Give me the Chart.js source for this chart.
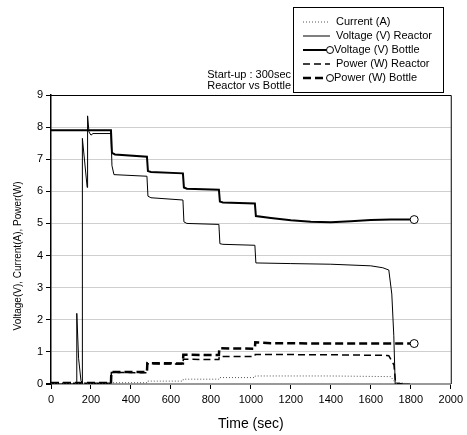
<!DOCTYPE html>
<html lang="en">
<head>
  <meta charset="UTF-8" />
  <title>Start-up : 300sec | Reactor vs Bottle</title>
  <script src="https://cdn.jsdelivr.net/npm/chart.js"></script>
  <style>
    body { margin: 0; background: #fff; }
    canvas { display: block; }
  </style>
</head>
<body>
  <canvas id="chart" width="467" height="435"></canvas>

  <script>
    // time (sec) / value pairs
    const currentT = [0, 300, 302, 480, 482, 660, 662, 840, 842, 1020, 1022, 1400, 1700, 1720, 1760, 1790];
    const currentV = [0, 0, 0.04, 0.04, 0.09, 0.09, 0.15, 0.15, 0.2, 0.2, 0.25, 0.25, 0.23, 0.05, 0.03, 0];

    const vReactorT = [0, 126, 129, 138, 150, 156, 157, 181, 183, 190, 200, 210, 300, 305, 315, 480, 485, 500, 660, 665, 680,
                       840, 845, 860, 1020, 1025, 1200, 1400, 1600, 1660, 1690, 1705, 1715, 1722, 1795];
    const vReactorV = [0, 0, 2.2, 0.8, 0.1, 0.05, 7.65, 6.12, 8.35, 7.85, 7.75, 7.8, 7.8, 6.8, 6.52, 6.47, 5.85, 5.8, 5.73, 5.05, 5.0,
                       4.97, 4.37, 4.35, 4.32, 3.77, 3.75, 3.73, 3.68, 3.62, 3.55, 2.8, 1.5, 0, 0];

    const vBottleT = [0, 300, 305, 320, 480, 485, 500, 660, 665, 680, 840, 845, 860, 1020, 1025, 1100, 1200, 1300, 1400, 1500, 1600, 1700, 1817];
    const vBottleV = [7.9, 7.9, 7.2, 7.15, 7.08, 6.63, 6.6, 6.56, 6.12, 6.08, 6.05, 5.68, 5.65, 5.62, 5.23, 5.17, 5.1, 5.05, 5.04, 5.07, 5.11, 5.12, 5.12];

    const pReactorT = [0, 300, 302, 480, 482, 660, 662, 840, 842, 1020, 1022, 1400, 1680, 1690, 1716, 1724, 1760];
    const pReactorV = [0.02, 0.02, 0.36, 0.35, 0.63, 0.62, 0.77, 0.76, 0.86, 0.86, 0.92, 0.91, 0.89, 0.88, 0.59, 0.03, 0];

    const pBottleT = [0, 300, 302, 480, 482, 660, 662, 840, 842, 1020, 1022, 1100, 1400, 1817];
    const pBottleV = [0.03, 0.03, 0.37, 0.37, 0.65, 0.64, 0.91, 0.9, 1.11, 1.1, 1.3, 1.27, 1.26, 1.26];

    const labels = ['Current (A)', 'Voltage (V) Reactor', 'Voltage (V) Bottle', 'Power (W) Reactor', 'Power (W) Bottle'];
    const noteLines = ['Start-up : 300sec', 'Reactor vs Bottle'];
    const yTitle = 'Voltage(V), Current(A), Power(W)';

    const FONT = "'Liberation Sans', Arial, sans-serif";

    function pts(t, v) {
      return t.map((x, i) => ({ x: x, y: v[i] }));
    }
    // only the last point of the "Bottle" series gets an open circle
    function lastOnly(ctx) {
      return ctx.dataIndex === ctx.dataset.data.length - 1 ? 4 : 0;
    }

    const datasets = [
      { label: labels[0], data: pts(currentT, currentV), borderColor: '#555', borderWidth: 1, borderDash: [1, 2], pointRadius: 0 },
      { label: labels[1], data: pts(vReactorT, vReactorV), borderColor: '#000', borderWidth: 1, pointRadius: 0 },
      { label: labels[2], data: pts(vBottleT, vBottleV), borderColor: '#000', borderWidth: 2, pointRadius: lastOnly,
        pointBackgroundColor: '#fff', pointBorderColor: '#000', pointBorderWidth: 1, marker: true },
      { label: labels[3], data: pts(pReactorT, pReactorV), borderColor: '#000', borderWidth: 1.5, borderDash: [7, 4], pointRadius: 0 },
      { label: labels[4], data: pts(pBottleT, pBottleV), borderColor: '#000', borderWidth: 2.5, borderDash: [8, 4], pointRadius: lastOnly,
        pointBackgroundColor: '#fff', pointBorderColor: '#000', pointBorderWidth: 1, marker: true }
    ];

    // frame, y title, legend box and the start-up note
    const decor = {
      id: 'decor',
      afterDraw(chart) {
        const ctx = chart.ctx;
        const a = chart.chartArea;
        ctx.save();
        ctx.strokeStyle = '#000';
        ctx.lineWidth = 1;
        ctx.beginPath();
        ctx.moveTo(a.left, a.top + 0.5);
        ctx.lineTo(a.right + 0.5, a.top + 0.5);
        ctx.lineTo(a.right + 0.5, a.bottom);
        ctx.stroke();

        ctx.fillStyle = '#000';
        ctx.textBaseline = 'middle';

        // y axis title (sits a little below the middle in the original)
        ctx.save();
        ctx.translate(18, 256);
        ctx.rotate(-Math.PI / 2);
        ctx.textAlign = 'center';
        ctx.font = '10px ' + FONT;
        ctx.fillText(yTitle, 0, 0);
        ctx.restore();

        // note text left of the legend
        ctx.font = '11px ' + FONT;
        ctx.textAlign = 'right';
        ctx.fillText(noteLines[0], 291, 75);
        ctx.fillText(noteLines[1], 291, 86);

        // legend
        const bx = 293, by = 7, bw = 150, bh = 85;
        ctx.fillStyle = '#fff';
        ctx.fillRect(bx, by, bw, bh);
        ctx.strokeRect(bx + 0.5, by + 0.5, bw, bh);
        ctx.textAlign = 'left';
        chart.data.datasets.forEach((ds, i) => {
          const y = 22 + i * 14;
          ctx.lineWidth = ds.borderWidth;
          ctx.setLineDash(ds.borderDash || []);
          ctx.strokeStyle = ds.borderColor;
          ctx.beginPath();
          ctx.moveTo(303, y);
          ctx.lineTo(ds.marker ? 327 : 330, y);
          ctx.stroke();
          ctx.setLineDash([]);
          if (ds.marker) {
            ctx.lineWidth = 1;
            ctx.fillStyle = '#fff';
            ctx.beginPath();
            ctx.arc(330, y, 3.5, 0, Math.PI * 2);
            ctx.fill();
            ctx.stroke();
          }
          ctx.fillStyle = '#000';
          ctx.fillText(ds.label, ds.marker ? 334 : 336, y);
        });
        ctx.restore();
      }
    };

    new Chart(document.getElementById('chart'), {
      type: 'line',
      data: { datasets: datasets },
      plugins: [decor],
      options: {
        responsive: false,
        animation: false,
        layout: { padding: { top: 95, left: 7, right: 15, bottom: 0 } },
        plugins: { legend: { display: false }, tooltip: { enabled: false } },
        elements: { line: { tension: 0 } },
        scales: {
          x: {
            type: 'linear',
            min: 0, max: 2000,
            afterFit(s) { s.height = 51; },
            ticks: { stepSize: 200, color: '#000', font: { family: FONT, size: 11 }, padding: 4, callback: v => String(v) },
            grid: { drawOnChartArea: false, tickLength: 5, tickColor: '#000' },
            border: { display: false },
            title: { display: true, text: 'Time (sec)', color: '#000', font: { family: FONT, size: 14 }, padding: { top: 4, bottom: 2 } }
          },
          y: {
            min: 0, max: 9,
            afterFit(s) { s.width = 44; },
            ticks: { stepSize: 1, color: '#000', font: { family: FONT, size: 11 }, padding: 3, callback: v => String(v) },
            grid: {
              color: c => c.tick && c.tick.value === 0 ? '#999' : '#cfcfcf',
              lineWidth: c => c.tick && c.tick.value === 0 ? 2 : 1,
              tickLength: 5, tickColor: '#000'
            },
            border: { color: '#000', width: 1.5 }
          }
        }
      }
    });
  </script>
</body>
</html>
